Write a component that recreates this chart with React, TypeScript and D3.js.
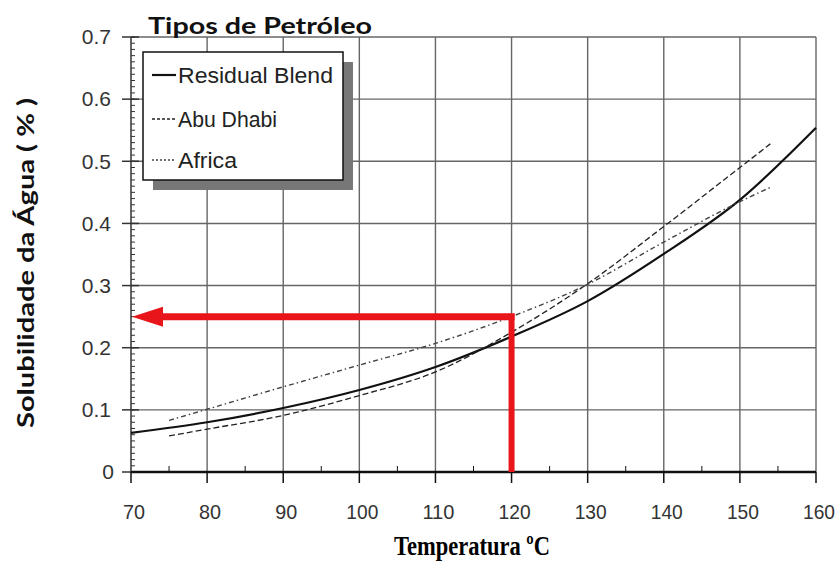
import React from 'react'
import * as d3 from 'd3'

// values
const residualTemps = [70, 80, 90, 100, 110, 120, 130, 140, 150, 160]
const residualBlend = [0.063, 0.08, 0.103, 0.132, 0.169, 0.218, 0.275, 0.351, 0.438, 0.554]

const abuTemps = [75, 80, 90, 100, 110, 120, 130, 140, 150, 154]
const abuDhabi = [0.058, 0.069, 0.091, 0.123, 0.161, 0.225, 0.303, 0.395, 0.49, 0.528]

const africaTemps = [75, 80, 90, 100, 110, 120, 130, 140, 150, 154]
const africa = [0.083, 0.101, 0.137, 0.172, 0.207, 0.25, 0.302, 0.37, 0.435, 0.458]

const xTicks = [70, 80, 90, 100, 110, 120, 130, 140, 150, 160]
const yTicks = [0, 0.1, 0.2, 0.3, 0.4, 0.5, 0.6, 0.7]
const legendNames = ['Residual Blend', 'Abu Dhabi', 'Africa']

const readTemp = 120
const readValue = 0.25

const x = d3.scaleLinear().domain([70, 160]).range([131, 816])
const y = d3.scaleLinear().domain([0, 0.7]).range([472, 37])

const line = d3.line<[number, number]>()
  .x(d => x(d[0]))
  .y(d => y(d[1]))
  .curve(d3.curveMonotoneX)

const styles = [
  { stroke: '#111', width: 2.2, dash: null },
  { stroke: '#222', width: 1.3, dash: '6,3' },
  { stroke: '#444', width: 1.4, dash: '5,3,1.5,3' },
]

const series = [
  residualTemps.map((t, i) => [t, residualBlend[i]] as [number, number]),
  abuTemps.map((t, i) => [t, abuDhabi[i]] as [number, number]),
  africaTemps.map((t, i) => [t, africa[i]] as [number, number]),
]

const minorY = d3.range(0, 71).map(i => i / 100)
const minorX = d3.range(75, 160, 10)

const App = () => {
  const sans = 'Liberation Sans, Arial, sans-serif'
  const bold = "Lato, 'Open Sans', sans-serif"
  const [x0, x1] = x.range()
  const [y0, y1] = y.range()

  return (
    <svg width={838} height={565} style={{ position: 'absolute', left: 0, top: 0, background: '#fff' }}>
      {/* grid */}
      <g stroke="#666" strokeWidth={1.4}>
        {xTicks.slice(1).map(t => (
          <line key={'gx' + t} x1={x(t)} x2={x(t)} y1={y1} y2={y0} />
        ))}
        {yTicks.slice(1).map(t => (
          <line key={'gy' + t} x1={x0} x2={x1} y1={y(t)} y2={y(t)} />
        ))}
      </g>

      {/* left axis */}
      <g stroke="#333">
        <line x1={x0} x2={x0} y1={y1} y2={y0} strokeWidth={1.5} />
        {minorY.map(v => (
          <line key={'my' + v} x1={x0} x2={x0 + 4} y1={y(v)} y2={y(v)} strokeWidth={1} />
        ))}
        {yTicks.map(t => (
          <line key={'ty' + t} x1={x0 - 9} x2={x0 + 8} y1={y(t)} y2={y(t)} strokeWidth={1.5} />
        ))}
      </g>
      <g fontFamily={sans} fontSize={21} fill="#333" textAnchor="end">
        {yTicks.map(t => (
          <text key={'ly' + t} x={t === 0 ? x0 - 17 : x0 - 20} y={y(t)} dy="0.35em">
            {t === 0 ? '0' : t.toFixed(1)}
          </text>
        ))}
      </g>

      {/* bottom axis */}
      <g stroke="#111">
        <line x1={x0} x2={x1} y1={y0} y2={y0} strokeWidth={2.6} />
        {xTicks.map(t => (
          <line key={'tx' + t} x1={x(t)} x2={x(t)} y1={y0} y2={y0 + 11} strokeWidth={1.5} />
        ))}
        {minorX.map(t => (
          <line key={'mx' + t} x1={x(t)} x2={x(t)} y1={y0} y2={y0 - 6} strokeWidth={1} />
        ))}
      </g>
      <g fontFamily={sans} fontSize={21} fill="#333" textAnchor="middle">
        {xTicks.map(t => (
          <text key={'lx' + t} x={x(t) + 3} y={519}
            textLength={t >= 100 ? 32 : 22} lengthAdjust="spacingAndGlyphs">{t}</text>
        ))}
      </g>

      {/* curves */}
      {series.map((d, i) => (
        <path
          key={'s' + i}
          d={line(d) || ''}
          fill="none"
          stroke={styles[i].stroke}
          strokeWidth={styles[i].width}
          strokeDasharray={styles[i].dash || undefined}
        />
      ))}

      {/* legend */}
      <rect x={153} y={62} width={200} height={128} fill="#777" />
      <rect x={143} y={52} width={200} height={128} fill="#fff" stroke="#111" strokeWidth={1.5} />
      {legendNames.map((n, i) => {
        const ly = [75, 119, 160][i]
        return (
          <g key={'lg' + n}>
            <line
              x1={152} x2={176} y1={ly} y2={ly}
              stroke={styles[i].stroke}
              strokeWidth={styles[i].width}
              strokeDasharray={i === 0 ? undefined : i === 1 ? '3,2' : '2,2'}
            />
            <text x={178} y={ly} dy="0.36em" fontFamily={sans} fontSize={22} fill="#222"
              textLength={[155, 99, 59][i]} lengthAdjust="spacingAndGlyphs">{n}</text>
          </g>
        )
      })}

      {/* red reading marks */}
      <line x1={x(readTemp)} x2={x(readTemp)} y1={y(readValue) - 3} y2={y(0)} stroke="#e8161b" strokeWidth={6} />
      <line x1={x(readTemp) + 3} x2={x(70) + 28} y1={y(readValue)} y2={y(readValue)} stroke="#e8161b" strokeWidth={7} />
      <path
        d={`M${x(70) + 1},${y(readValue)} L${x(70) + 32},${y(readValue) - 10} L${x(70) + 32},${y(readValue) + 10} Z`}
        fill="#e8161b"
      />

      {/* titles */}
      <text x={148} y={34} fontFamily={bold} fontWeight="bold" fontSize={22} fill="#111"
        textLength={224} lengthAdjust="spacingAndGlyphs">
        Tipos de Petróleo
      </text>
      <text
        transform="translate(34,263) rotate(-90)"
        textAnchor="middle"
        fontFamily={bold}
        fontWeight="bold"
        fontSize={22}
        fill="#111"
        textLength={330}
        lengthAdjust="spacingAndGlyphs"
      >
        Solubilidade da Água ( % )
      </text>
      <text
        x={472}
        y={555}
        textAnchor="middle"
        fontFamily="'Liberation Serif', 'Times New Roman', serif"
        fontWeight="bold"
        fontSize={28}
        fill="#000"
        textLength={156}
        lengthAdjust="spacingAndGlyphs"
      >
        Temperatura ºC
      </text>
    </svg>
  )
}

export default App
